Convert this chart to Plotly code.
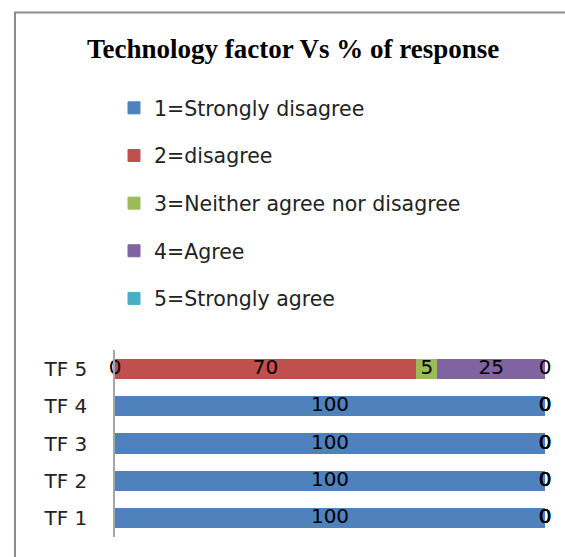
import plotly.graph_objects as go
import numpy as np

categories = ["TF 1", "TF 2", "TF 3", "TF 4", "TF 5"]
series_names = ["1=Strongly disagree", "2=disagree", "3=Neither agree nor disagree",
                "4=Agree", "5=Strongly agree"]
s1 = [100, 100, 100, 100, 0]
s2 = [0, 0, 0, 0, 70]
s3 = [0, 0, 0, 0, 5]
s4 = [0, 0, 0, 0, 25]
s5 = [0, 0, 0, 0, 0]
colors = ["#4F81BD", "#C0504D", "#9BBB59", "#8064A2", "#4BACC6"]
title_text = "Technology factor Vs % of response"

W, H = 565, 557
L, R, T, B = 115, 20, 350, 20
PW, PH = W - L - R, H - T - B


def px2x(p):
    return (p - L) / PW


def px2y(p):
    return (H - B - p) / PH


series = [s1, s2, s3, s4, s5]
fig = go.Figure()
for i, (name, vals, col) in enumerate(zip(series_names, series, colors)):
    fig.add_trace(go.Bar(
        y=categories, x=vals, name=name, orientation="h",
        marker=dict(color=col, line=dict(width=1, color=col)),
        legendgroup=f"g{i}",
    ))

# data labels at segment centres
cum = np.zeros(len(categories))
for vals in series:
    v = np.array(vals, dtype=float)
    mids = cum + v / 2
    fig.add_trace(go.Scatter(
        y=categories, x=mids, mode="text", text=[str(int(a)) for a in v],
        textfont=dict(family="DejaVu Sans", size=20, color="black"),
        showlegend=False, cliponaxis=False, hoverinfo="skip",
    ))
    cum = cum + v

fig.update_layout(
    width=W, height=H,
    margin=dict(l=L, r=R, t=T, b=B),
    paper_bgcolor="white", plot_bgcolor="white",
    barmode="stack", bargap=0.49,
    font=dict(family="DejaVu Sans", size=20, color="black"),
    showlegend=True,
    legend=dict(
        x=px2x(114), y=px2y(88), xanchor="left", yanchor="top",
        traceorder="grouped", tracegroupgap=18, itemwidth=30,
        font=dict(family="DejaVu Sans", size=20.5, color="#222222"),
        bgcolor="rgba(0,0,0,0)",
    ),
    xaxis=dict(range=[0, 100], showgrid=False, zeroline=False,
               showticklabels=False, ticks="", showline=False, fixedrange=True),
    yaxis=dict(showgrid=False, zeroline=False, showline=True,
               linecolor="#A6A6A6", linewidth=1.5, ticks="",
               ticklabelstandoff=22,
               tickfont=dict(family="DejaVu Sans", size=20, color="#222222")),
    annotations=[dict(
        text="<b>" + title_text + "</b>", xref="paper", yref="paper",
        x=px2x(293), y=px2y(48.5), xanchor="center", yanchor="middle",
        showarrow=False,
        font=dict(family="Liberation Serif", size=27, color="black"),
    )],
    shapes=[
        dict(type="line", xref="paper", yref="paper",
             x0=px2x(15), x1=px2x(15), y0=px2y(12.5), y1=px2y(H + 5),
             line=dict(color="#8C8C8C", width=2)),
        dict(type="line", xref="paper", yref="paper",
             x0=px2x(14), x1=px2x(W + 5), y0=px2y(12.5), y1=px2y(12.5),
             line=dict(color="#8C8C8C", width=2)),
    ],
)

fig.write_html("out.html", config={"displayModeBar": False},
               post_script="document.body.style.margin='0px';document.body.style.padding='0px';")
